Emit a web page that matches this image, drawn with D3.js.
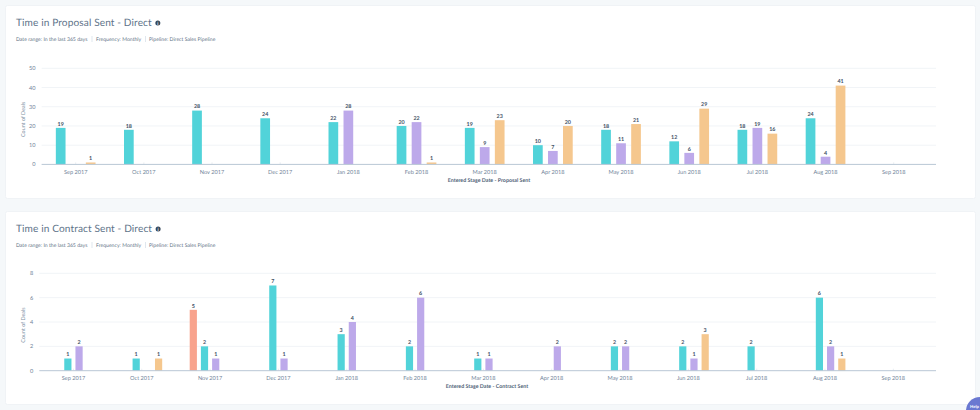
<!DOCTYPE html>
<html>
<head>
<meta charset="utf-8">
<script src="https://cdnjs.cloudflare.com/ajax/libs/d3/7.8.5/d3.min.js"></script>
<style>
  html, body { margin: 0; padding: 0; background: #f5f8fa; }
  svg { display: block; font-family: Lato, sans-serif; text-rendering: geometricPrecision; }
  .card { fill: #fff; stroke: #f0f3f6; }
  .title { font-size: 10.1px; fill: #5e7389; letter-spacing: .12px; }
  .meta { font-size: 5.15px; fill: #5f7387; }
  .tick-label { font-size: 5.6px; fill: #72859a; }
  .y-title { font-size: 5.4px; fill: #7c8fa3; }
  .x-title { font-size: 5.3px; font-weight: 700; fill: #4f6378; }
  .value { font-size: 5.4px; font-weight: 700; fill: #3f5266; text-anchor: middle; }
  .grid { stroke: #f1f4f7; stroke-width: 1; }
  .baseline { stroke: #b9c7d5; stroke-width: 1; }
</style>
</head>
<body>
<svg id="chart" width="980" height="410"></svg>
<script>
const months = ['Sep 2017', 'Oct 2017', 'Nov 2017', 'Dec 2017', 'Jan 2018', 'Feb 2018', 'Mar 2018',
  'Apr 2018', 'May 2018', 'Jun 2018', 'Jul 2018', 'Aug 2018', 'Sep 2018'];

const proposalTeal = [19, 18, 28, 24, 22, 20, 19, 10, 18, 12, 18, 24, 0];
const proposalPurple = [0, 0, 0, 0, 28, 22, 9, 7, 11, 6, 19, 4, 0];
const proposalOrange = [1, 0, 0, 0, 0, 1, 23, 20, 21, 29, 16, 41, 0];
const proposalTicks = [0, 10, 20, 30, 40, 50];

const contractSalmon = [0, 0, 5, 0, 0, 0, 0, 0, 0, 0, 0, 0, 0];
const contractTeal = [1, 1, 2, 7, 3, 2, 1, 0, 2, 2, 2, 6, 0];
const contractPurple = [2, 0, 1, 1, 4, 6, 1, 2, 2, 1, 0, 2, 0];
const contractOrange = [0, 1, 0, 0, 0, 0, 0, 0, 0, 3, 0, 1, 0];
const contractTicks = [0, 2, 4, 6, 8];

const metaText = ['Date range: In the last 365 days', 'Frequency: Monthly', 'Pipeline: Direct Sales Pipeline'];

const TEAL = '#51d3d9';
const PURPLE = '#bda9ea';
const ORANGE = '#f5c78e';
const SALMON = '#f8a38d';

const svg = d3.select('#chart');

function drawChart(opts) {
  const card = svg.append('g');

  card.append('rect').attr('class', 'card')
    .attr('x', 5.5).attr('y', opts.cardTop + 0.5)
    .attr('width', 970).attr('height', opts.cardHeight).attr('rx', 2);

  const title = card.append('text').attr('class', 'title')
    .attr('x', 16).attr('y', opts.cardTop + 21).text(opts.title);

  // info icon sits just after the title
  const iconX = 16 + title.node().getComputedTextLength() + 6;
  card.append('circle').attr('cx', iconX).attr('cy', opts.cardTop + 18).attr('r', 2.5).attr('fill', '#33475b');
  card.append('text').attr('x', iconX).attr('y', opts.cardTop + 19.7)
    .attr('text-anchor', 'middle').attr('font-size', 4.4).attr('font-weight', 700).attr('fill', '#fff').text('i');

  const metaStops = [16, 96, 149];
  metaText.forEach((t, i) => {
    card.append('text').attr('class', 'meta')
      .attr('x', metaStops[i]).attr('y', opts.cardTop + 36).text(t);
  });
  [92, 145.5].forEach(x => {
    card.append('line').attr('x1', x).attr('x2', x)
      .attr('y1', opts.cardTop + 31).attr('y2', opts.cardTop + 37)
      .attr('stroke', '#cbd6e2').attr('stroke-width', 0.6);
  });

  const x = d3.scaleBand().domain(months).range(opts.xRange);
  const y = d3.scaleLinear().domain([0, opts.ticks[opts.ticks.length - 1]]).range(opts.yRange);

  const g = svg.append('g');

  g.selectAll('line.grid').data(opts.ticks.slice(1)).enter().append('line')
    .attr('class', 'grid')
    .attr('x1', opts.axisLeft).attr('x2', 936)
    .attr('y1', d => y(d)).attr('y2', d => y(d));

  g.selectAll('text.y-tick').data(opts.ticks).enter().append('text')
    .attr('class', 'tick-label y-tick')
    .attr('x', opts.axisLeft - 6).attr('y', d => y(d) + 2)
    .attr('text-anchor', 'end')
    .text(d => d);

  g.append('text').attr('class', 'y-title')
    .attr('transform', `translate(25,${(opts.yRange[0] + opts.yRange[1]) / 2 + 3}) rotate(-90)`)
    .attr('text-anchor', 'middle').text('Count of Deals');

  // little stubs on the baseline at each month centre
  g.selectAll('line.stub').data(months).enter().append('line')
    .attr('x1', d => x(d) + x.bandwidth() / 2).attr('x2', d => x(d) + x.bandwidth() / 2)
    .attr('y1', opts.yRange[0]).attr('y2', opts.yRange[0] - 2)
    .attr('stroke', '#dfe6ed').attr('stroke-width', 0.7);

  opts.series.forEach((s, i) => {
    const off = (i - (opts.series.length - 1) / 2) * opts.groupStep;
    const rows = s.values.map((v, j) => ({ month: months[j], v })).filter(d => d.v > 0);
    const group = g.append('g');

    group.selectAll('rect').data(rows).enter().append('rect')
      .attr('x', d => x(d.month) + x.bandwidth() / 2 + off - opts.barWidth / 2)
      .attr('y', d => y(d.v))
      .attr('width', opts.barWidth)
      .attr('height', d => y(0) - y(d.v))
      .attr('fill', s.color);

    group.selectAll('text').data(rows).enter().append('text')
      .attr('class', 'value')
      .attr('x', d => x(d.month) + x.bandwidth() / 2 + off)
      .attr('y', d => y(d.v) - 2.2)
      .text(d => d.v);
  });

  g.append('line').attr('class', 'baseline')
    .attr('x1', opts.axisLeft).attr('x2', 936)
    .attr('y1', y(0)).attr('y2', y(0));

  g.selectAll('text.x-tick').data(months).enter().append('text')
    .attr('class', 'tick-label x-tick')
    .attr('x', d => x(d) + x.bandwidth() / 2).attr('y', y(0) + 9.3)
    .attr('text-anchor', 'middle')
    .text(d => d);

  g.append('text').attr('class', 'x-title')
    .attr('x', opts.xTitleX).attr('y', y(0) + 17.3)
    .attr('text-anchor', 'middle').text(opts.xTitle);
}

drawChart({
  title: 'Time in Proposal Sent - Direct',
  xTitle: 'Entered Stage Date - Proposal Sent',
  xTitleX: 489,
  cardTop: 5,
  cardHeight: 193,
  xRange: [41.6, 927.8],
  axisLeft: 41.6,
  yRange: [164.4, 68.3],
  ticks: proposalTicks,
  barWidth: 9.7,
  groupStep: 15,
  series: [
    { values: proposalTeal, color: TEAL },
    { values: proposalPurple, color: PURPLE },
    { values: proposalOrange, color: ORANGE },
  ],
});

drawChart({
  title: 'Time in Contract Sent - Direct',
  xTitle: 'Entered Stage Date - Contract Sent',
  xTitleX: 487,
  cardTop: 211,
  cardHeight: 193,
  xRange: [39.3, 927.5],
  axisLeft: 39.3,
  yRange: [370.7, 273.3],
  ticks: contractTicks,
  barWidth: 7.2,
  groupStep: 11.2,
  series: [
    { values: contractSalmon, color: SALMON },
    { values: contractTeal, color: TEAL },
    { values: contractPurple, color: PURPLE },
    { values: contractOrange, color: ORANGE },
  ],
});

// help bubble cut off by the window corner
svg.append('circle').attr('cx', 980).attr('cy', 411).attr('r', 14).attr('fill', '#6a78d1');
svg.append('text').attr('x', 970).attr('y', 408).attr('font-size', 4.2).attr('font-weight', 700).attr('fill', '#fff').text('Help');
</script>
</body>
</html>
